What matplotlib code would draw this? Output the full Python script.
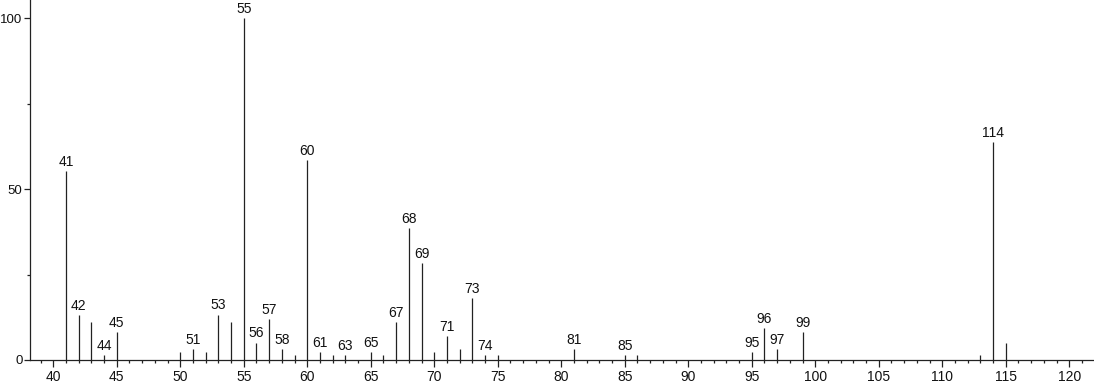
import matplotlib.pyplot as plt
from matplotlib.ticker import MultipleLocator

# m/z 값과 상대 강도
mz = [41, 42, 43, 44, 45, 50, 51, 52, 53, 54, 55, 56, 57, 58, 59, 60, 61, 62, 63,
      65, 66, 67, 68, 69, 70, 71, 72, 73, 74, 75, 81, 85, 86,
      95, 96, 97, 99, 113, 114, 115]
intensity = [55.4, 13.2, 11.2, 1.4, 8.3, 2.4, 3.2, 2.4, 13.3, 11.2, 100, 5.1, 12.1, 3.2, 1.4, 58.6, 2.4, 1.4, 1.4,
             2.4, 1.4, 11.1, 38.6, 28.3, 2.4, 7.0, 3.2, 18.2, 1.4, 1.4, 3.2, 1.4, 1.4,
             2.4, 9.4, 3.2, 8.2, 1.4, 63.7, 5.1]
# 라벨 붙는 피크
labeled = [41, 42, 44, 45, 51, 53, 55, 56, 57, 58, 60, 61, 63, 65, 67, 68, 69, 71,
           73, 74, 81, 85, 95, 96, 97, 99, 114]

plt.rcParams['font.family'] = ['Liberation Sans', 'DejaVu Sans']

fig = plt.figure(figsize=(10.94, 3.84), dpi=100)
ax = fig.add_axes([30 / 1094, 24 / 384, 1 - 30 / 1094, 1 - 24 / 384])

ax.vlines(mz, 0, intensity, color='#222222', linewidth=0.9)
for m, v in zip(mz, intensity):
    if m in labeled:
        ax.annotate(str(m), (m, v), xytext=(0, 1.5), textcoords='offset points',
                    ha='center', va='bottom', fontsize=10, color='#111111')

ax.set_xlim(38.17, 121.95)
ax.set_ylim(0, 105.4)

ax.xaxis.set_major_locator(MultipleLocator(5))
ax.xaxis.set_minor_locator(MultipleLocator(1))
ax.yaxis.set_major_locator(MultipleLocator(50))
ax.yaxis.set_minor_locator(MultipleLocator(25))

ax.spines['top'].set_visible(False)
ax.spines['right'].set_visible(False)
for s in ['left', 'bottom']:
    ax.spines[s].set_linewidth(0.9)
    ax.spines[s].set_color('#222222')

ax.tick_params(axis='both', which='major', length=5, width=0.9, color='#222222',
               labelcolor='#111111')
ax.tick_params(axis='x', which='major', labelsize=10, pad=2.5)
ax.tick_params(axis='y', which='major', labelsize=9.5, pad=0.8, length=4.5)
ax.tick_params(axis='both', which='minor', length=2.5, width=0.9, color='#222222')

fig.savefig('out.png', dpi=100)
